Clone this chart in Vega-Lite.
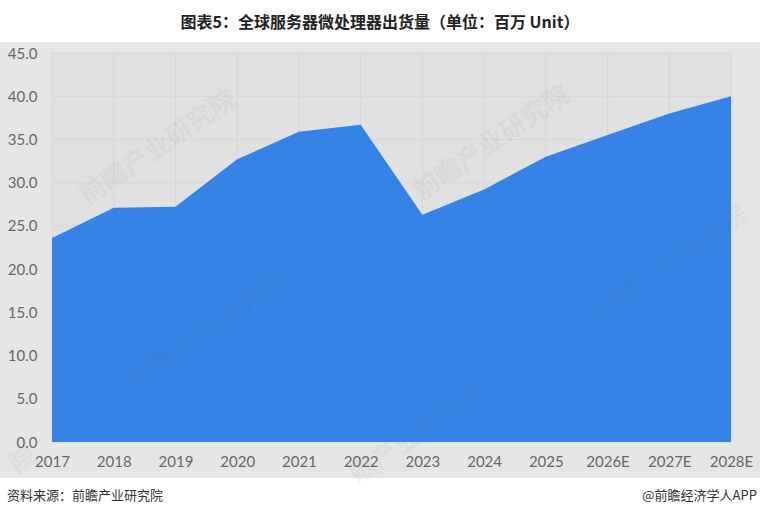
{
 "$schema":"https://vega.github.io/schema/vega-lite/v6.json",
 "width":679,"height":389,
 "autosize":"none",
 "padding":{"left":52,"top":53,"right":29,"bottom":76},
 "background":"#ffffff",
 "title":{"text":"图表5：全球服务器微处理器出货量（单位：百万 Unit）","font":"Noto Sans CJK SC","fontWeight":"bold","fontSize":16,"color":"#222222","anchor":"middle","dx":-11.5,"offset":11},
 "datasets":{
  "series":[
   {"year":2017,"value":23.6},{"year":2018,"value":27.1},{"year":2019,"value":27.2},{"year":2020,"value":32.7},
   {"year":2021,"value":35.9},{"year":2022,"value":36.7},{"year":2023,"value":26.3},{"year":2024,"value":29.2},
   {"year":2025,"value":33.0},{"year":2026,"value":35.5},{"year":2027,"value":38.0},{"year":2028,"value":40.0}],
  "panel":[{"x":2016.158,"x2":2028.47,"y":-4.16,"y2":46.27}],
  "plot":[{"x":2017,"x2":2028,"y":0,"y2":45}],
  "gridx":[{"v":2017},{"v":2018},{"v":2019},{"v":2020},{"v":2021},{"v":2022},{"v":2023},{"v":2024},{"v":2025},{"v":2026},{"v":2027},{"v":2028}],
  "gridy":[{"v":0},{"v":5},{"v":10},{"v":15},{"v":20},{"v":25},{"v":30},{"v":35},{"v":40},{"v":45}],
  "marks":[
   {"x":2018.717,"y":34.01,"t":"前瞻产业研究院"},
   {"x":2024.128,"y":34.59,"t":"前瞻产业研究院"},
   {"x":2027.0,"y":20.8,"t":"前瞻产业研究院"},
   {"x":2019.527,"y":12.96,"t":"前瞻产业研究院"},
   {"x":2022.929,"y":0.93,"t":"瞻产业研究院"},
   {"x":2016.53,"y":-2.08,"t":"院"}],
  "foot":[{"x":2016.27,"y":-6.25,"t":"资料来源：前瞻产业研究院"}],
  "foot2":[{"x":2028.42,"y":-6.25,"t":"@前瞻经济学人APP"}]
 },
 "layer":[
  {"data":{"name":"panel"},"mark":{"type":"rect","color":"#e6e6e6"},
   "encoding":{"x":{"field":"x","type":"quantitative"},"x2":{"field":"x2"},"y":{"field":"y","type":"quantitative"},"y2":{"field":"y2"}}},
  {"data":{"name":"plot"},"mark":{"type":"rect","color":"#e1e1e1"},
   "encoding":{"x":{"field":"x","type":"quantitative"},"x2":{"field":"x2"},"y":{"field":"y","type":"quantitative"},"y2":{"field":"y2"}}},
  {"data":{"name":"gridx"},"mark":{"type":"rule","color":"#d6d6d6","strokeWidth":1},
   "encoding":{"x":{"field":"v","type":"quantitative"}}},
  {"data":{"name":"gridy"},"mark":{"type":"rule","color":"#d6d6d6","strokeWidth":1},
   "encoding":{"y":{"field":"v","type":"quantitative"}}},
  {"data":{"name":"series"},"mark":{"type":"area","color":"#3583e6","line":false,"interpolate":"linear"},
   "encoding":{
    "x":{"field":"year","type":"quantitative","scale":{"domain":[2017,2028],"nice":false,"zero":false},
     "axis":{"title":null,"values":[2017,2018,2019,2020,2021,2022,2023,2024,2025,2026,2027,2028],
      "labelExpr":"datum.value>=2026?datum.value+'E':''+datum.value",
      "grid":false,"domain":false,"ticks":false,"labelFont":"Lato","labelFontSize":15,"labelColor":"#666666","labelPadding":12,"labelOverlap":false,"zindex":1,"labelFlush":false}},
    "y":{"field":"value","type":"quantitative","scale":{"domain":[0,45],"nice":false},
     "axis":{"title":null,"values":[0,5,10,15,20,25,30,35,40,45],"format":".1f",
      "grid":false,"domain":false,"ticks":false,"labelFont":"Lato","labelFontSize":15,"labelColor":"#666666","labelPadding":15,"zindex":1}}}},
  {"data":{"name":"marks"},"mark":{"type":"text","font":"Noto Sans CJK SC","fontSize":26,"angle":-34,"color":"#555577","opacity":0.05,"fontWeight":"bold"},
   "encoding":{"x":{"field":"x","type":"quantitative"},"y":{"field":"y","type":"quantitative"},"text":{"field":"t"}}},
  {"data":{"name":"foot"},"mark":{"type":"text","font":"Noto Sans CJK SC","fontSize":13,"align":"left","color":"#333333"},
   "encoding":{"x":{"field":"x","type":"quantitative"},"y":{"field":"y","type":"quantitative"},"text":{"field":"t"}}},
  {"data":{"name":"foot2"},"mark":{"type":"text","font":"Noto Sans CJK SC","fontSize":13,"align":"right","color":"#333333"},
   "encoding":{"x":{"field":"x","type":"quantitative"},"y":{"field":"y","type":"quantitative"},"text":{"field":"t"}}}
 ],
 "config":{"view":{"stroke":null}}
}
